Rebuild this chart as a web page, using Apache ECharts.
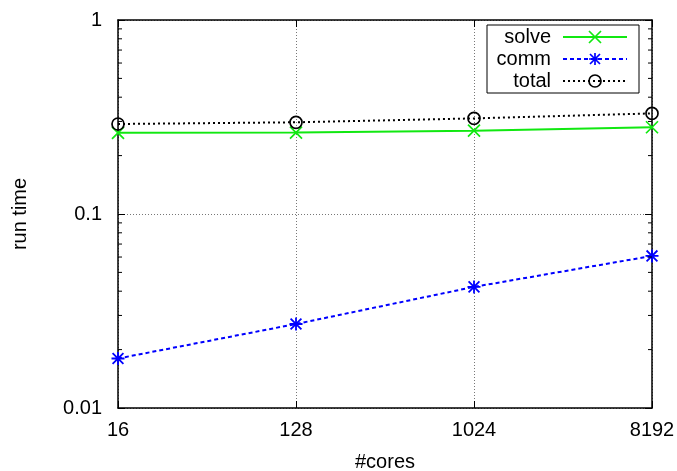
<!DOCTYPE html>
<html>
<head>
<meta charset="utf-8">
<script src="https://cdn.jsdelivr.net/npm/echarts@6/dist/echarts.min.js"></script>
<style>html,body{margin:0;padding:0;background:#fff;}#c{width:677px;height:471px;}</style>
</head>
<body>
<div id="c"></div>
<script>
var xCategories = ['16', '128', '1024', '8192'];
var solveValues = [0.262, 0.263, 0.269, 0.280];
var commValues = [0.0180, 0.0271, 0.0421, 0.0608];
var totalValues = [0.291, 0.297, 0.311, 0.330];
var yTickLabels = ['0.01', '0.1', '1'];
var minorTickValues = [0.02, 0.03, 0.04, 0.05, 0.06, 0.07, 0.08, 0.09,
                       0.2, 0.3, 0.4, 0.5, 0.6, 0.7, 0.8, 0.9];

var FONT = 'Liberation Sans';
var FS = 20;
var chart = echarts.init(document.getElementById('c'), null, {renderer: 'canvas'});

var crossPath = 'path://M0,0L12,12M12,0L0,12';
var starPath = 'path://M6,0L6,12M0,6L12,6M1,1L11,11M11,1L1,11';

var option = {
  animation: false,
  backgroundColor: '#fff',
  grid: {left: 118, right: 25, top: 20, bottom: 63, show: false, containLabel: false, outerBoundsMode: 'none'},
  legend: {
    data: ['solve', 'comm', 'total'],
    orient: 'vertical',
    align: 'right',
    left: 487, top: 25,
    padding: [2, 11, 2, 3],
    itemGap: 2,
    itemWidth: 64,
    itemHeight: 15,
    borderColor: '#000',
    borderWidth: 1,
    itemStyle: {borderWidth: 1.7},
    formatter: function (n) { return '{a|' + n + '}'; },
    textStyle: {
      fontFamily: FONT, fontSize: FS, color: '#000',
      rich: {a: {fontFamily: FONT, fontSize: FS, color: '#000', width: 61, align: 'right', padding: [0, 7, 0, 0], lineHeight: 19.5}}
    }
  },
  xAxis: [{
    type: 'category',
    data: xCategories,
    boundaryGap: false,
    name: '#cores',
    nameLocation: 'middle',
    nameGap: 44,
    nameTextStyle: {fontFamily: FONT, fontSize: FS, color: '#000'},
    axisLine: {show: true, lineStyle: {color: '#000', width: 1.5}},
    axisTick: {show: true, inside: true, length: 7, lineStyle: {color: '#000', width: 1}},
    axisLabel: {fontFamily: FONT, fontSize: FS, color: '#000', margin: 12},
    splitLine: {show: true, lineStyle: {color: '#777', width: 1, type: [1, 2]}}
  }, {
    type: 'category',
    data: xCategories,
    boundaryGap: false,
    position: 'top',
    axisLine: {show: true, lineStyle: {color: '#000', width: 1.5}},
    axisTick: {show: true, inside: true, length: 7, lineStyle: {color: '#000', width: 1}},
    axisLabel: {show: false},
    splitLine: {show: false}
  }],
  yAxis: [{
    type: 'log',
    logBase: 10,
    min: 0.01, max: 1,
    interval: 1,
    name: 'run time',
    nameLocation: 'middle',
    nameGap: 88,
    nameRotate: 90,
    nameTextStyle: {fontFamily: FONT, fontSize: FS, color: '#000'},
    axisLine: {show: true, lineStyle: {color: '#000', width: 1.5}},
    axisTick: {show: true, inside: true, length: 7, lineStyle: {color: '#000', width: 1}},
    axisLabel: {
      fontFamily: FONT, fontSize: FS, color: '#000', margin: 16,
      formatter: function (v) {
        var e = Math.round(Math.log10(v));
        return yTickLabels[e + 2];
      }
    },
    splitLine: {show: true, lineStyle: {color: '#777', width: 1, type: [1, 2]}}
  }, {
    type: 'log',
    logBase: 10,
    min: 0.01, max: 1,
    interval: 1,
    position: 'right',
    axisLine: {show: true, lineStyle: {color: '#000', width: 1.5}},
    axisTick: {show: true, inside: true, length: 7, lineStyle: {color: '#000', width: 1}},
    axisLabel: {show: false},
    splitLine: {show: false}
  }],
  series: [{
    name: 'solve',
    type: 'line',
    data: solveValues,
    symbol: crossPath,
    symbolSize: 12,
    lineStyle: {color: '#11e811', width: 2, type: 'solid'},
    itemStyle: {color: 'rgba(0,0,0,0)', borderColor: '#11e811', borderWidth: 1.7},
    z: 3
  }, {
    name: 'comm',
    type: 'line',
    data: commValues,
    symbol: starPath,
    symbolSize: 13,
    lineStyle: {color: '#0000ff', width: 2, type: [4, 3]},
    itemStyle: {color: 'rgba(0,0,0,0)', borderColor: '#0000ff', borderWidth: 1.8},
    z: 3
  }, {
    name: 'total',
    type: 'line',
    data: totalValues,
    symbol: 'circle',
    symbolSize: 12,
    lineStyle: {color: '#000', width: 2, type: [2, 3]},
    itemStyle: {color: 'rgba(0,0,0,0)', borderColor: '#000', borderWidth: 1.7},
    z: 3
  }, {
    name: 'minorTicks',
    type: 'custom',
    silent: true,
    data: minorTickValues.map(function (v) { return [0, v]; }),
    encode: {x: 0, y: 1},
    renderItem: function (params, api) {
      var v = api.value(1);
      var pl = api.coord([0, v]);
      var pr = api.coord([xCategories.length - 1, v]);
      var st = {stroke: '#000', lineWidth: 1};
      return {
        type: 'group',
        children: [
          {type: 'line', shape: {x1: pl[0], y1: pl[1], x2: pl[0] + 4, y2: pl[1]}, style: st},
          {type: 'line', shape: {x1: pr[0] - 4, y1: pr[1], x2: pr[0], y2: pr[1]}, style: st}
        ]
      };
    },
    z: 4
  }]
};
chart.setOption(option);
</script>
</body>
</html>
